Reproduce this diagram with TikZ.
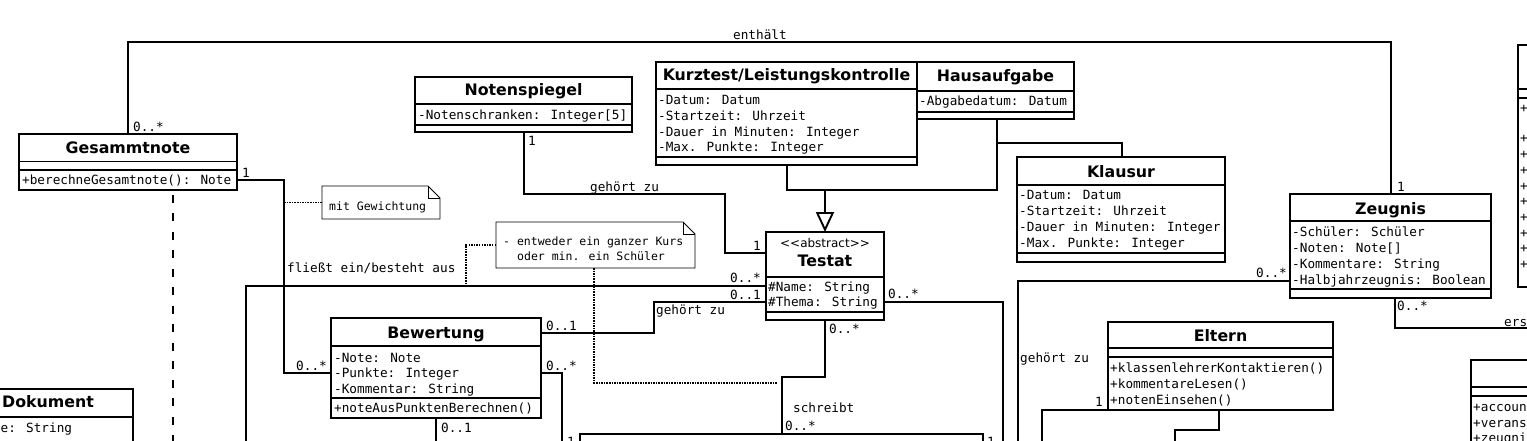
\documentclass[tikz,border=0pt]{standalone}
\usepackage{fontspec}
\setmainfont{DejaVu Sans}
\newfontfamily\umlmono{DejaVu Sans Mono}
\usetikzlibrary{arrows.meta}

\tikzset{
  box/.style={draw, line width=1.9pt, inner sep=0pt, outer sep=0pt, fill=white},
  sepline/.style={line width=1.9pt},
  conn/.style={line width=1.9pt},
  dots/.style={line width=1.8pt, dash pattern=on 1.5pt off 1.1pt},
  txt/.style={font=\umlmono\fontsize{12.7}{16}\selectfont, inner sep=0pt, anchor=base west},
  rtxt/.style={txt, anchor=base east},
  ntxt/.style={font=\umlmono\fontsize{11.5}{15}\selectfont, inner sep=0pt, anchor=base west},
  ttl/.style={font=\fontsize{15.8}{18}\selectfont\bfseries, inner sep=0pt, anchor=base},
  ster/.style={font=\fontsize{12}{14}\selectfont, inner sep=0pt, anchor=base},
  notebox/.style={draw, line width=0.8pt, fill=white},
  notearea/.style={inner sep=0pt, outer sep=0pt},
}

\newcommand\cls[5]{\node[box, anchor=north west, minimum width={(#4)-(#2)}, minimum height={(#5)-(#3)}] (#1) at (#2,#3) {};}
\newcommand\hsep[2]{\draw[sepline] (#1.west |- 0,#2) -- (#1.east |- 0,#2);}
\newcommand\umlnote[5]{%
  \node[notearea, anchor=north west, minimum width={(#4)-(#2)}, minimum height={(#5)-(#3)}] (#1) at (#2,#3) {};
  \draw[notebox] (#1.north west) -- ([xshift=-12pt]#1.north east) -- ([yshift=-12pt]#1.north east) -- (#1.south east) -- (#1.south west) -- cycle;
  \draw[line width=0.6pt] ([xshift=-12pt]#1.north east) -- ([xshift=-12pt,yshift=-12pt]#1.north east) -- ([yshift=-12pt]#1.north east);
}

\begin{document}
\begin{tikzpicture}[x=1pt,y=-1pt]
\useasboundingbox (0,0) rectangle (1527,440);
\clip (0,0) rectangle (1527,440);
\fill[white] (0,0) rectangle (1527,440);

% ---------- classes ----------
\cls{gesamt}{19}{134}{237}{190}
\hsep{gesamt}{161.5}\hsep{gesamt}{170}
\node[ttl] (gesamtT) at (128,153) {Gesammtnote};
\node[txt] (gesamtM) at (22,184) {+berechneGesamtnote(): Note};

\cls{noten}{415}{77}{632}{132}
\hsep{noten}{104}\hsep{noten}{125}
\node[ttl] (notenT) at (523.5,95.5) {Notenspiegel};
\node[txt] (notenA) at (418,119.5) {-Notenschranken: Integer[5]};

\cls{kurz}{656}{62}{917}{165}
\hsep{kurz}{89}\hsep{kurz}{157}
\node[ttl] (kurzT) at (786.5,80.5) {Kurztest/Leistungskontrolle};
\node[txt] (kurzA1) at (658,104.5) {-Datum: Datum};
\node[txt] (kurzA2) at (658,120) {-Startzeit: Uhrzeit};
\node[txt] (kurzA3) at (658,136) {-Dauer in Minuten: Integer};
\node[txt] (kurzA4) at (658,151.5) {-Max. Punkte: Integer};

\cls{haus}{917}{62}{1074}{119}
\hsep{haus}{91}\hsep{haus}{112}
\node[ttl] (hausT) at (995.5,81) {Hausaufgabe};
\node[txt] (hausA) at (919,105.5) {-Abgabedatum: Datum};

\cls{klausur}{1017}{157}{1225}{262}
\hsep{klausur}{185}\hsep{klausur}{253}
\node[ttl] (klausurT) at (1121,177) {Klausur};
\node[txt] (klA1) at (1019,199.5) {-Datum: Datum};
\node[txt] (klA2) at (1019,215.5) {-Startzeit: Uhrzeit};
\node[txt] (klA3) at (1019,231.5) {-Dauer in Minuten: Integer};
\node[txt] (klA4) at (1019,247.5) {-Max. Punkte: Integer};

\cls{testat}{766}{232}{884}{320}
\hsep{testat}{277}\hsep{testat}{312}
\node[ster] (testatS) at (825,247) {<{}<abstract>{}>};
\node[ttl] (testatT) at (825,266.5) {Testat};
\node[txt] (testatA1) at (768,291) {\#Name: String};
\node[txt] (testatA2) at (768,306.5) {\#Thema: String};

\cls{bew}{331}{318}{541}{418}
\hsep{bew}{346}\hsep{bew}{398}
\node[ttl] (bewT) at (436,338) {Bewertung};
\node[txt] (bewA1) at (334,362) {-Note: Note};
\node[txt] (bewA2) at (334,377.5) {-Punkte: Integer};
\node[txt] (bewA3) at (334,393) {-Kommentar: String};
\node[txt] (bewM) at (334,412.5) {+noteAusPunktenBerechnen()};

\cls{eltern}{1108}{322}{1333}{410}
\hsep{eltern}{348}\hsep{eltern}{357}
\node[ttl] (elternT) at (1220.5,341.5) {Eltern};
\node[txt] (elM1) at (1110,372.5) {+klassenlehrerKontaktieren()};
\node[txt] (elM2) at (1110,388.5) {+kommentareLesen()};
\node[txt] (elM3) at (1110,404) {+notenEinsehen()};

\cls{zeug}{1290}{194}{1491}{298}
\hsep{zeug}{221}\hsep{zeug}{289}
\node[ttl] (zeugT) at (1390.5,214) {Zeugnis};
\node[txt] (zA1) at (1292,236.5) {-Schüler: Schüler};
\node[txt] (zA2) at (1292,252.5) {-Noten: Note[]};
\node[txt] (zA3) at (1292,268.5) {-Kommentare: String};
\node[txt] (zA4) at (1292,284.5) {-Halbjahrzeugnis: Boolean};

\cls{dok}{-40}{389}{133}{480}
\hsep{dok}{417}
\node[ttl] (dokT) at (48,407.5) {Dokument};
\node[txt] (dokA) at (0.5,432) {e: String};

\cls{rtop}{1518}{45}{1600}{287}
\hsep{rtop}{89}\hsep{rtop}{98}
\foreach \yy [count=\i] in {112,142,158,174,190,205.5,221,237,252.5,268}
  \node[txt] (rtop\i) at (1520,\yy) {+};

\cls{rbot}{1471}{360}{1600}{480}
\hsep{rbot}{387}\hsep{rbot}{396}
\node[txt] (rb1) at (1473,411) {+accoun};
\node[txt] (rb2) at (1473,427) {+verans};
\node[txt] (rb3) at (1473,442) {+zeugni};

\cls{dbot}{580}{434}{983}{500}

% ---------- notes ----------
\umlnote{note1}{322}{186}{440}{219}
\node[ntxt] (note1T) at (329,210.5) {mit Gewichtung};
\umlnote{note2}{496}{222}{695}{268}
\node[ntxt] (note2T1) at (503,245) {- entweder ein ganzer Kurs};
\node[ntxt] (note2T2) at (517,260) {oder min. ein Schüler};

% ---------- connectors ----------
% enthaelt
\draw[conn] (128,0 |- gesamt.north) -- (128,42) -- (1391,42) -- (1391,0 |- zeug.north);
\node[txt] (lEnth) at (733,39) {enthält};
\node[txt] (mEnth1) at (133,131) {0..*};
\node[txt] (mEnth2) at (1397,191.5) {1};

% Gesammtnote -- Bewertung
\draw[conn] (gesamt.east |- 0,180) -- (284,180) -- (284,373) -- (bew.west |- 0,373);
\node[txt] (mGB1) at (242,177) {1};
\node[rtxt] (mGB2) at (327,370.5) {0..*};
\node[txt] (lGB) at (287,272.5) {fließt ein/besteht aus};
\draw[dots] (284,202.5) -- (note1.west);

% long line to Testat
\draw[conn] (246,450) -- (246,286) -- (testat.west |- 0,286);
\node[rtxt] (mLT) at (761,282.5) {0..*};
\draw[dots] (note2.west) -- (466,245) -- (466,286);
\draw[dots] (594,0 |- note2.south) -- (594,383) -- (778,383);

% Testat -- Bewertung (gehoert zu)
\draw[conn] (testat.west |- 0,302) -- (654,302) -- (654,333) -- (bew.east |- 0,333);
\node[rtxt] (mTB1) at (761,299) {0..1};
\node[txt] (mTB2) at (546,330.5) {0..1};
\node[txt] (lTB) at (656,314) {gehört zu};

% Bewertung right lower / bottom
\draw[conn] (bew.east |- 0,373) -- (562,373) -- (562,450);
\node[txt] (mBR) at (546,370.5) {0..*};
\draw[conn] (436,0 |- bew.south) -- (436,450);
\node[txt] (mBB) at (441,432) {0..1};
\node[rtxt] (mBot1) at (575,446) {1};
\node[txt] (mBot2) at (987,446) {1};

% Notenspiegel -- Testat
\draw[conn] (524,0 |- noten.south) -- (524,194) -- (725,194) -- (725,253) -- (testat.west |- 0,253);
\node[txt] (mNT1) at (528,145) {1};
\node[rtxt] (mNT2) at (761,250.5) {1};
\node[txt] (lNT) at (590,191) {gehört zu};

% generalization
\draw[conn] (787,0 |- kurz.south) -- (787,190) -- (997,190) -- (997,0 |- haus.south);
\draw[conn] (997,143) -- (1122,143) -- (1122,0 |- klausur.north);
\draw[conn, -{Triangle[open, length=20pt, width=18pt]}] (825,190) -- (testat.north);

% Testat right
\draw[conn] (testat.east |- 0,302) -- (1003,302) -- (1003,450);
\node[txt] (mTR) at (888,298.5) {0..*};

% Testat bottom -- schreibt
\draw[conn] (825,0 |- testat.south) -- (825,377) -- (782,377) -- (782,0 |- dbot.north);
\node[txt] (mTS1) at (829,333) {0..*};
\node[txt] (lTS) at (793,412.5) {schreibt};
\node[txt] (mTS2) at (785,430) {0..*};

% Zeugnis left
\draw[conn] (zeug.west |- 0,281) -- (1018,281) -- (1018,450);
\node[rtxt] (mZL) at (1287,277.5) {0..*};
\node[txt] (lZL) at (1020,362.5) {gehört zu};

% Eltern
\draw[conn] (eltern.south west) -- (1042,410) -- (1042,450);
\node[rtxt] (mEl) at (1103,406.5) {1};
\draw[conn] (1219,0 |- eltern.south) -- (1219,430) -- (1175,430) -- (1175,450);

% Zeugnis bottom
\draw[conn] (1395,0 |- zeug.south) -- (1395,328) -- (1540,328);
\node[txt] (mZB) at (1397,310.5) {0..*};
\node[txt] (lZB) at (1504,326) {ers};

% dashed from Gesammtnote
\draw[conn, dash pattern=on 8pt off 10.5pt, dash phase=13.8pt] (173,0 |- gesamt.south) -- (173,450);

\end{tikzpicture}
\end{document}
